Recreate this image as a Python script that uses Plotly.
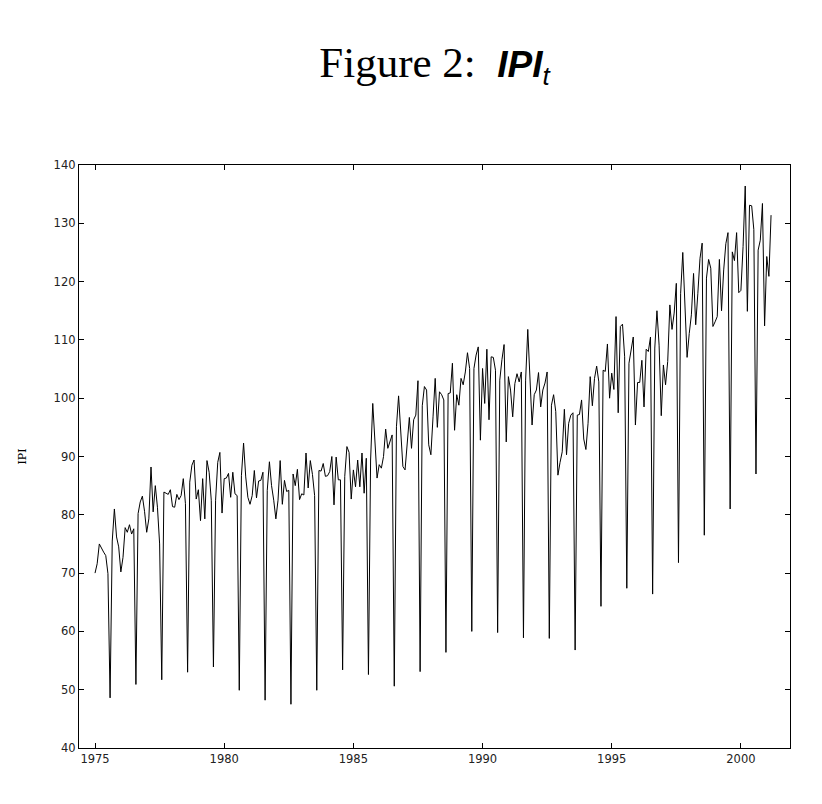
import plotly.graph_objects as go

# monthly IPI readings, Jan 1975 - Mar 2001 (one list per year)
ipi_1975 = [70.0, 71.6, 75.0, 74.2, 73.6, 73.0, 69.9, 48.6, 75.5, 81.0, 76.2, 74.5]
ipi_1976 = [70.2, 72.7, 77.8, 77.0, 78.3, 76.7, 77.6, 50.9, 80.2, 82.2, 83.2, 80.6]
ipi_1977 = [77.0, 79.3, 88.2, 80.5, 85.0, 81.3, 75.0, 51.7, 83.9, 83.7, 83.5, 84.3]
ipi_1978 = [81.4, 81.3, 83.5, 82.6, 83.3, 86.2, 81.9, 53.0, 85.6, 88.5, 89.4, 82.7]
ipi_1979 = [84.3, 79.0, 86.2, 79.3, 89.3, 87.3, 82.5, 53.9, 82.5, 89.0, 90.7, 80.3]
ipi_1980 = [86.2, 86.3, 87.1, 83.0, 87.3, 83.6, 83.3, 49.9, 86.7, 92.3, 86.5, 83.0]
ipi_1981 = [81.8, 83.3, 87.6, 82.9, 85.8, 85.9, 87.3, 48.2, 84.2, 89.1, 85.0, 82.5]
ipi_1982 = [79.3, 82.5, 89.3, 81.8, 85.9, 84.0, 84.2, 47.5, 87.0, 85.0, 87.8, 82.6]
ipi_1983 = [83.6, 83.4, 90.6, 84.6, 89.3, 86.9, 83.3, 49.9, 87.6, 87.5, 88.8, 86.6]
ipi_1984 = [86.7, 87.4, 90.0, 81.7, 89.9, 86.0, 86.0, 53.4, 86.6, 91.7, 90.7, 82.7]
ipi_1985 = [87.7, 84.8, 89.4, 84.8, 90.6, 83.7, 89.7, 52.6, 89.4, 99.1, 93.4, 86.3]
ipi_1986 = [88.6, 88.0, 90.0, 94.7, 91.4, 92.6, 93.7, 50.6, 95.1, 100.4, 95.1, 88.3]
ipi_1987 = [87.7, 92.3, 96.7, 91.4, 96.3, 97.1, 103.0, 53.1, 98.7, 102.0, 101.4, 92.0]
ipi_1988 = [90.3, 96.8, 103.4, 95.0, 101.1, 100.6, 99.7, 56.4, 100.8, 100.9, 106.0, 94.5]
ipi_1989 = [100.6, 98.8, 103.4, 102.3, 104.5, 107.8, 105.1, 60.0, 105.1, 107.4, 108.8, 92.8]
ipi_1990 = [105.1, 99.1, 108.4, 96.3, 107.1, 107.0, 104.8, 59.8, 103.1, 106.6, 109.2, 92.5]
ipi_1991 = [103.7, 101.4, 96.8, 102.5, 104.2, 102.8, 104.5, 58.9, 103.1, 111.8, 103.1, 95.4]
ipi_1992 = [100.6, 101.4, 104.4, 98.5, 101.4, 102.6, 104.5, 58.8, 98.8, 100.6, 97.7, 86.8]
ipi_1993 = [89.0, 90.8, 98.1, 90.3, 95.7, 97.1, 97.5, 56.8, 97.1, 97.2, 99.7, 93.0]
ipi_1994 = [91.2, 95.7, 103.7, 98.7, 103.4, 105.5, 102.8, 64.3, 104.8, 104.6, 109.3, 100.0]
ipi_1995 = [104.3, 101.5, 114.0, 97.5, 112.3, 112.7, 107.1, 67.4, 106.0, 108.3, 110.5, 95.4]
ipi_1996 = [102.7, 102.7, 106.5, 98.5, 108.4, 108.0, 110.5, 66.4, 108.6, 115.0, 109.1, 97.0]
ipi_1997 = [105.7, 102.3, 106.3, 116.0, 111.8, 114.6, 119.7, 71.8, 118.0, 125.0, 116.0, 107.0]
ipi_1998 = [111.1, 114.3, 121.4, 112.6, 118.0, 124.0, 126.6, 76.5, 120.6, 123.8, 122.3, 112.3]
ipi_1999 = [113.1, 114.0, 123.8, 115.0, 122.0, 126.5, 128.4, 81.0, 125.1, 123.6, 128.4, 118.1]
ipi_2000 = [118.5, 126.0, 136.4, 114.9, 133.1, 133.0, 128.9, 87.0, 125.4, 127.1, 133.4, 112.4]
ipi_2001 = [124.3, 120.9, 131.4]

year_ticks = [1975, 1980, 1985, 1990, 1995, 2000]

ipi = (ipi_1975 + ipi_1976 + ipi_1977 + ipi_1978 + ipi_1979 + ipi_1980 + ipi_1981
       + ipi_1982 + ipi_1983 + ipi_1984 + ipi_1985 + ipi_1986 + ipi_1987 + ipi_1988
       + ipi_1989 + ipi_1990 + ipi_1991 + ipi_1992 + ipi_1993 + ipi_1994 + ipi_1995
       + ipi_1996 + ipi_1997 + ipi_1998 + ipi_1999 + ipi_2000 + ipi_2001)

# one point per month starting Jan 1975
t = [1975 + i / 12 for i in range(len(ipi))]

fig = go.Figure()
fig.add_trace(go.Scatter(x=t, y=ipi, mode="lines", line=dict(color="black", width=1), showlegend=False))

# page body has an 8px margin, so the margins are shifted by that
fig.update_layout(
    width=822, height=804,
    paper_bgcolor="white", plot_bgcolor="white",
    margin=dict(l=71, r=40, t=157, b=64),
    title=dict(
        text="Figure 2:  <span style='font-family:Liberation Sans;font-size:37px'><b><i>IPI</i></b><sub><i>t</i></sub></span>",
        font=dict(family="Liberation Serif", size=43, color="black"),
        x=0.5, xanchor="center", y=0.933, yanchor="middle", xref="paper", yref="container",
    ),
)

axis_style = dict(
    showline=True, linecolor="black", linewidth=1.3, mirror="ticks",
    ticks="inside", ticklen=5, tickcolor="black", tickwidth=1,
    showgrid=False, zeroline=False,
    tickfont=dict(family="DejaVu Sans", size=11.5, color="#222"),
)

fig.update_xaxes(axis_style, range=[1974.38, 2001.9], tickvals=year_ticks)
fig.update_yaxes(axis_style, range=[40, 140], dtick=10,
                 title=dict(text="IPI", font=dict(family="DejaVu Serif", size=11, color="black"), standoff=24))

fig.write_html("out.html")
